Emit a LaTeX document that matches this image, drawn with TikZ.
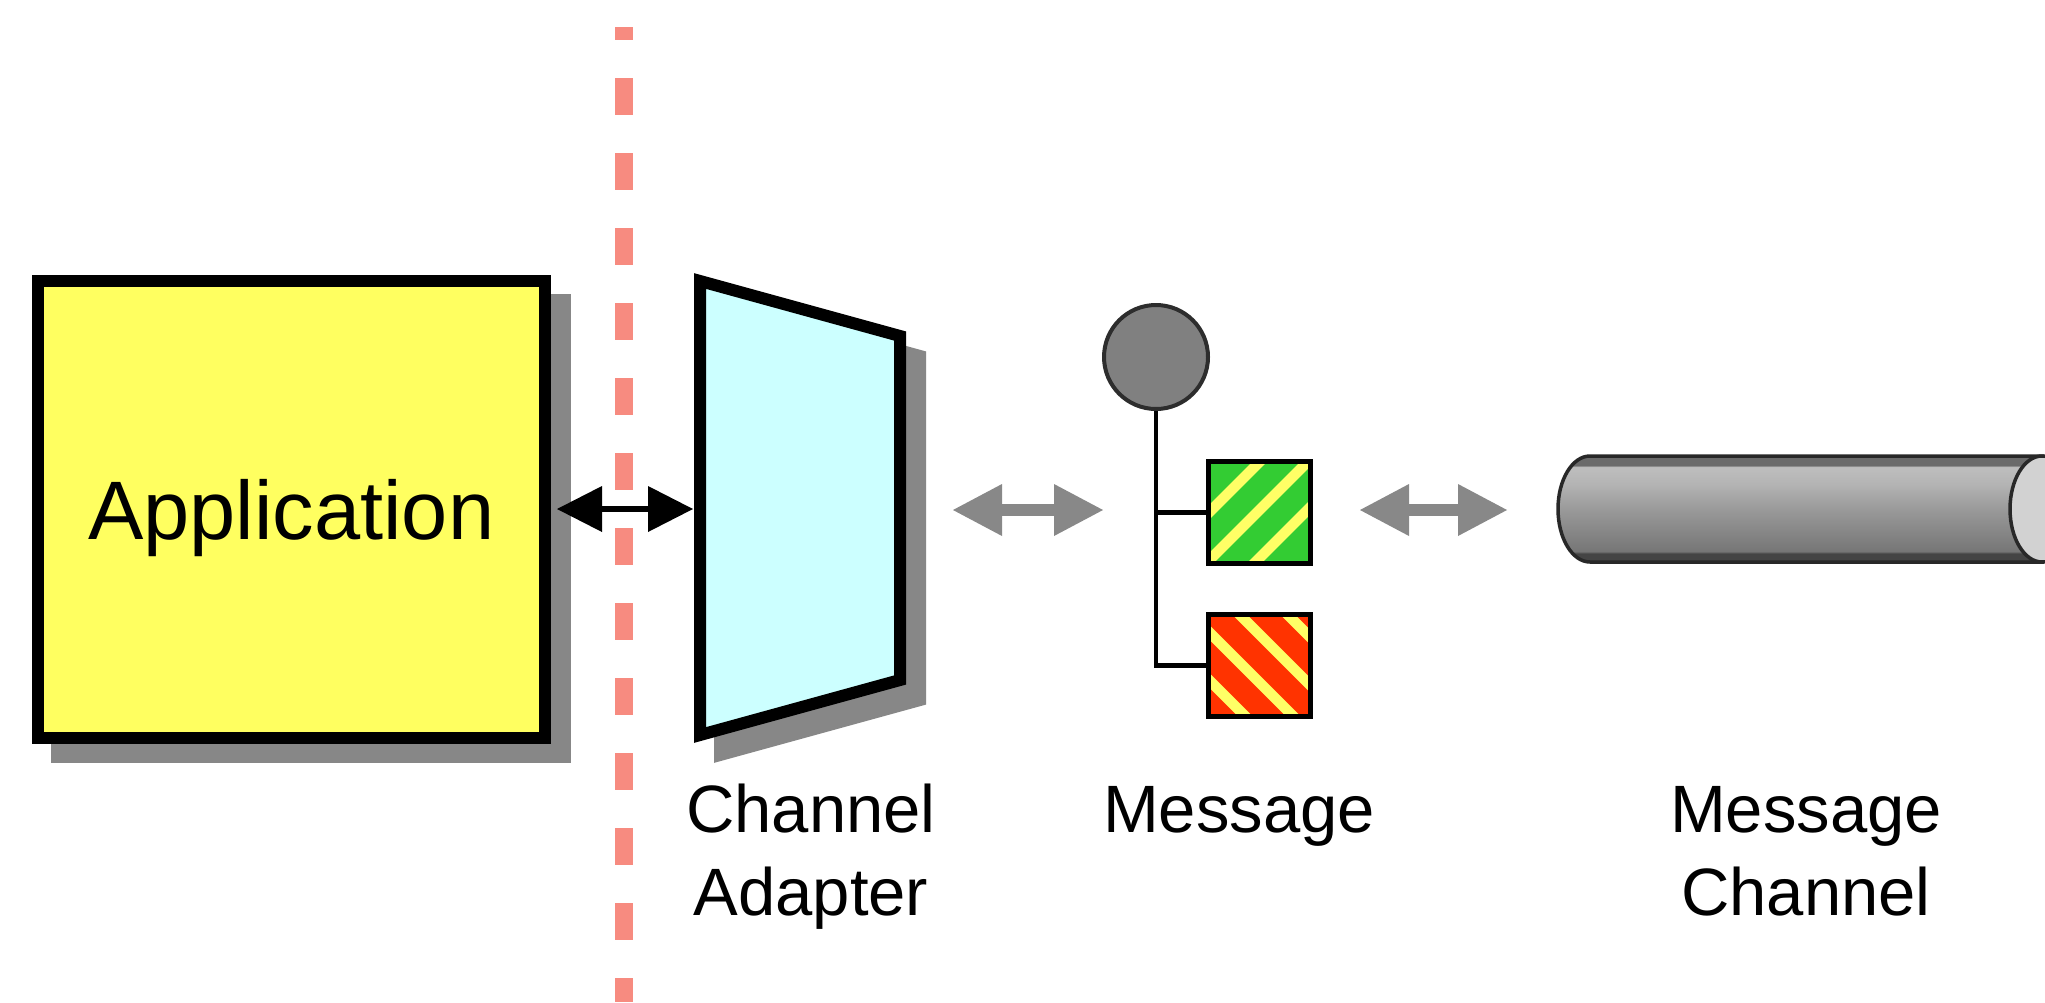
\documentclass[tikz,border=0pt]{standalone}
\usepackage{fontspec}
\setmainfont{Liberation Sans}
\usetikzlibrary{arrows.meta}

\definecolor{appyellow}{RGB}{255,255,96}
\definecolor{adcyan}{RGB}{204,255,255}
\definecolor{shadowgray}{RGB}{135,135,135}
\definecolor{boundary}{RGB}{247,139,128}
\definecolor{flowgray}{RGB}{136,136,136}
\definecolor{headfill}{RGB}{128,128,128}
\definecolor{headline}{RGB}{45,45,45}
\definecolor{msggreen}{RGB}{51,204,51}
\definecolor{msgred}{RGB}{255,51,0}
\definecolor{stripeyellow}{RGB}{255,255,102}
\definecolor{pipeline}{RGB}{40,40,40}
\definecolor{pipeend}{RGB}{210,210,210}
\definecolor{pipeT}{RGB}{107,107,107}
\definecolor{pipeL}{RGB}{190,190,190}
\definecolor{pipeU}{RGB}{180,180,180}
\definecolor{pipeM}{RGB}{150,150,150}
\definecolor{pipeB}{RGB}{118,118,118}
\definecolor{pipeD}{RGB}{68,68,68}

% body of the channel pipe: dark rims, light upper half fading downwards
\pgfdeclareverticalshading{pipebody}{100bp}{%
  color(0bp)=(pipeD); color(25bp)=(pipeD); color(29bp)=(pipeD);
  color(30bp)=(pipeB); color(48bp)=(pipeM); color(62bp)=(pipeU);
  color(69.8bp)=(pipeL); color(70.6bp)=(pipeT); color(100bp)=(pipeT)}

\begin{document}
\begin{tikzpicture}[x=1pt, y=-1pt,
  appbox/.style={draw=black, line width=12pt, fill=appyellow, inner sep=0pt,
    minimum width=507.5pt, minimum height=457pt,
    font=\fontsize{83}{100}\selectfont, text height=60pt, text depth=0pt},
  lbl/.style={font=\fontsize{67}{83}\selectfont, align=center, inner sep=0pt},
  divider/.style={draw=boundary, line width=18pt,
    dash pattern=on 37pt off 38pt, dash phase=24pt},
  karrow/.style={draw=black, line width=6pt,
    >={Triangle[length=45pt,width=46pt,line width=0pt]}, <->},
  garrow/.style={draw=flowgray, line width=12pt,
    >={Triangle[length=49pt,width=52pt,line width=0pt]}, <->},
  stripe/.style={draw=stripeyellow, line width=10.5pt},
  msghead/.style={circle, draw=headline, fill=headfill, line width=4pt,
    minimum size=104pt, inner sep=0pt},
  msgpart/.style={draw=black, line width=5pt, minimum size=102pt, inner sep=0pt},
  greenstripes/.style={fill=msggreen, path picture={
    \begin{scope}[shift={(path picture bounding box.center)}]
      \foreach \s in {-50,-2,46} \draw[stripe] (\s-70,70) -- (\s+70,-70);
    \end{scope}}},
  redstripes/.style={fill=msgred, path picture={
    \begin{scope}[shift={(path picture bounding box.center)}]
      \foreach \d in {-64.5,-16.5,31.5,79.5} \draw[stripe] (\d-70,-70) -- (\d+70,70);
    \end{scope}}},
  stemline/.style={draw=black, line width=4.5pt},
  pipe/.style={draw=pipeline, line width=3.5pt}
]
\path[use as bounding box, fill=white] (0,0) rectangle (2045,1002);

% application with its drop shadow
\fill[shadowgray] (51,294) rectangle (571,763);
\node[appbox] (app) at (291.25,509) {Application};

% channel adapter: trapezoid with shadow
\filldraw[shadowgray, line width=12pt, line join=miter]
  (720,301) -- (920,356) -- (920,700) -- (720,755) -- cycle;
\filldraw[fill=adcyan, draw=black, line width=12pt, line join=miter]
  (700,281) -- (900,336) -- (900,680) -- (700,735) -- cycle;
\node[minimum width=212pt, minimum height=466pt, inner sep=0pt, outer sep=0pt]
  (adapter) at (800,508) {};

% application boundary
\draw[divider] (624,27) -- (624,1002);

% application <-> adapter
\draw[karrow, shorten <=6pt, shorten >=1pt] (app.east) -- (app.east -| adapter.west);

% message: header and two body parts
\node[msghead] (head) at (1156,357) {};
\node[msgpart, greenstripes] (body1) at (1259,512.5) {};
\node[msgpart, redstripes] (body2) at (1259,665.5) {};
\draw[stemline] (head.south) -- (head.south |- body2.west) -- (body2.west);
\draw[stemline] (head.south |- body1.west) -- (body1.west);

% message channel pipe
\coordinate (channel) at (1558,510);
\shadedraw[shading=pipebody, pipe]
  (1590,456) -- (2042,456) -- (2042,562) -- (1590,562)
  arc[start angle=90, end angle=270, x radius=32, y radius=53] -- cycle;
\draw[pipe, fill=pipeend] (2042,509) ellipse [x radius=32, y radius=53];

\coordinate (tap) at (head.south |- channel);

% flows
\draw[garrow, shorten <=47pt, shorten >=53pt] (adapter.east |- tap) -- (tap);
\draw[garrow, shorten <=47.5pt, shorten >=51pt] (channel -| body1.east) -- (channel);

% captions (base anchor sits on the last line)
\node[lbl, anchor=base] (adlabel) at (811,915) {Channel\\Adapter};
\node[lbl, anchor=base] (msglabel) at (1239,832) {Message};
\node[lbl, anchor=base] (chlabel) at (1806,915) {Message\\Channel};
\end{tikzpicture}
\end{document}
